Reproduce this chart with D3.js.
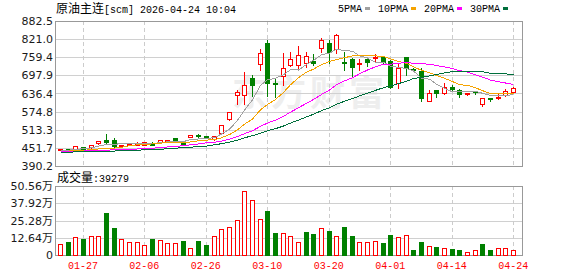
<!DOCTYPE html>
<html>
<head>
<meta charset="utf-8">
<script src="https://cdn.jsdelivr.net/npm/d3@7"></script>
<style>
    body { margin: 0; background: #fff; }
</style>
</head>
<body>
<div id="kline"></div>
<script>
// trading days shown on the chart
var dates = ["01-22","01-23","01-26","01-27","01-28","01-29","01-30","02-02","02-03","02-04",
    "02-05","02-06","02-09","02-10","02-11","02-12","02-13","02-24","02-25","02-26",
    "02-27","03-02","03-03","03-04","03-05","03-06","03-09","03-10","03-11","03-12",
    "03-13","03-16","03-17","03-18","03-19","03-20","03-23","03-24","03-25","03-26",
    "03-27","03-30","03-31","04-01","04-02","04-03","04-07","04-08","04-09","04-10",
    "04-13","04-14","04-15","04-16","04-17","04-20","04-21","04-22","04-23","04-24"];

var open  = [445,447,449,455,454,467,479,478,458,462, 463,463,466,471,476,485,476,490,496,493,
             482,501,549,630,630,688,736,807,673,696, 733,733,739,747,790,809,786,744,752,735,
             752,756,759,747,673,759,719,714,611,648, 639,658,648,636,641,601,621,622,630,640];
var high  = [448,448,458,456,465,479,502,488,463,469, 476,474,476,480,483,490,479,496,501,495,
             494,530,577,652,714,702,792,820,690,777, 779,802,782,773,827,820,843,782,759,756,
             761,773,767,752,744,764,725,727,651,651, 676,669,654,642,643,626,623,639,654,662];
var low   = [444,445,448,447,452,465,469,456,456,460, 462,461,461,469,474,478,463,488,489,486,
             478,499,547,601,600,628,716,628,625,665, 729,722,727,733,778,740,775,716,691,716,
             731,744,741,654,654,699,712,612,610,625, 635,645,626,632,634,594,611,617,628,637];
var close = [447,446,457,448,462,476,473,459,461,465, 469,470,463,478,479,480,466,495,491,488,
             491,528,575,641,664,665,773,671,668,722, 752,767,764,739,818,778,835,741,727,739,
             744,759,744,657,722,724,716,622,639,638, 657,652,634,639,640,620,618,625,645,654];

// volume, in 万
var volume = [8.1,9.8,13.0,11.8,14.0,14.0,31.1,19.9,11.6,9.6, 9.6,7.4,11.8,11.0,8.6,8.6,10.3,4.9,10.3,7.4,
              14.0,18.9,20.6,25.5,46.9,40.2,26.3,32.4,16.2,16.2, 14.0,9.6,16.9,15.5,19.6,17.7,14.0,20.6,14.0,9.6,
              9.6,10.3,8.8,14.7,13.0,14.7,3.7,9.6,6.6,5.9, 4.9,4.4,3.7,2.2,3.7,8.1,3.7,4.9,4.9,3.9279];

// moving averages
var ma5  = [444,444,446,449,452,458,463,464,466,467, 465,465,466,470,472,474,473,480,482,484,
            486,499,515,545,580,615,664,683,688,700, 717,716,735,749,768,773,787,782,780,764,
            757,742,743,729,725,721,713,688,685,668, 654,642,644,644,644,637,630,628,630,632];
var ma10 = [441,441,442,443,446,448,449,451,454,459, 462,464,465,468,469,469,469,472,476,478,
            480,486,497,513,532,550,581,599,616,640, 666,690,709,719,734,745,751,758,764,766,
            765,764,762,754,745,739,727,715,707,697, 688,677,666,664,656,646,636,636,637,638];
var ma20 = [440,440,441,441,442,443,444,445,446,447, 448,449,451,452,455,457,459,462,465,469,
            471,475,481,490,500,510,525,536,546,559, 573,588,603,616,633,648,666,679,690,703,
            716,727,736,736,739,742,739,737,736,731, 727,721,714,709,700,692,682,676,672,667];
var ma30 = [437,437,438,438,439,439,440,441,442,443, 444,445,446,447,449,451,452,454,456,458,
            462,466,471,478,486,493,502,510,517,526, 536,546,557,566,578,588,600,610,619,628,
            637,647,656,662,670,678,687,691,696,701, 706,711,712,712,711,710,705,703,703,700];

var priceTicks = [390.2, 451.7, 513.3, 574.8, 636.4, 697.9, 759.4, 821.0, 882.5];
var volTicks = [0, 12.64, 25.28, 37.92, 50.56];
var dateTicks = ["01-27","02-06","02-26","03-10","03-20","04-01","04-14","04-24"];

var maNames = ["5PMA", "10PMA", "20PMA", "30PMA"];
var maColors = ["#a0a0a0", "#f5a300", "#ff00ff", "#006f3c"];
var maSeries = [ma5, ma10, ma20, ma30];

var up = "#ff0000", down = "#008000";
var mono = "'Liberation Mono', 'DejaVu Sans Mono', monospace";
var cjk = "'Noto Sans CJK SC', sans-serif";

var width = 578, height = 276;
var left = 56, right = 522;
var pTop = 21, pBottom = 166;
var vTop = 186, vBottom = 255;

var svg = d3.select("#kline")
    .append("svg")
    .attr("width", width)
    .attr("height", height);

var x = d3.scaleBand()
    .domain(dates)
    .range([left, 517]);
var cx = function(d) { return Math.round(x(d) + x.bandwidth() / 2) + 0.5; };
var px = function(v) { return Math.round(v) + 0.5; };

var y = d3.scaleLinear()
    .domain([390.2, 882.5])
    .range([pBottom, pTop]);

var yv = d3.scaleLinear()
    .domain([0, 50.56])
    .range([vBottom, vTop]);

// watermark
svg.append("text")
    .attr("x", 232)
    .attr("y", 106)
    .style("font-family", cjk)
    .style("font-size", "35px")
    .style("font-weight", "bold")
    .style("letter-spacing", "4px")
    .attr("fill", "#eeeeee")
    .text("东方财富");

// horizontal grid
svg.append("g").selectAll("line")
    .data(priceTicks)
    .enter().append("line")
    .attr("x1", left).attr("x2", right)
    .attr("y1", function(d) { return px(y(d)); })
    .attr("y2", function(d) { return px(y(d)); })
    .attr("stroke", "#d0d0d0");

svg.append("g").selectAll("line")
    .data(volTicks)
    .enter().append("line")
    .attr("x1", left).attr("x2", right)
    .attr("y1", function(d) { return px(yv(d)); })
    .attr("y2", function(d) { return px(yv(d)); })
    .attr("stroke", "#d0d0d0");

// dashed vertical grid on both panels
[[pTop, pBottom], [vTop, vBottom]].forEach(function(p) {
    svg.append("g").selectAll("line")
        .data(dateTicks)
        .enter().append("line")
        .attr("x1", cx).attr("x2", cx)
        .attr("y1", p[0]).attr("y2", p[1])
        .attr("stroke", "#cccccc")
        .attr("stroke-dasharray", "4,3");
});

// panel borders
svg.append("rect")
    .attr("x", left - 0.5).attr("y", pTop + 0.5)
    .attr("width", right - left + 1).attr("height", pBottom - pTop)
    .attr("fill", "none").attr("stroke", "#999");
svg.append("rect")
    .attr("x", left - 0.5).attr("y", vTop + 0.5)
    .attr("width", right - left + 1).attr("height", vBottom - vTop)
    .attr("fill", "none").attr("stroke", "#999");

// candles
var idx = d3.range(dates.length);
var candles = svg.append("g").attr("shape-rendering", "crispEdges");

candles.selectAll("line")
    .data(idx)
    .enter().append("line")
    .attr("x1", function(i) { return cx(dates[i]); })
    .attr("x2", function(i) { return cx(dates[i]); })
    .attr("y1", function(i) { return px(y(high[i])); })
    .attr("y2", function(i) { return px(y(low[i])); })
    .attr("stroke", function(i) { return close[i] >= open[i] ? up : down; });

candles.selectAll("rect")
    .data(idx)
    .enter().append("rect")
    .attr("x", function(i) { return cx(dates[i]) - 2; })
    .attr("width", 4)
    .attr("y", function(i) { return px(y(Math.max(open[i], close[i]))); })
    .attr("height", function(i) {
        return Math.max(0.01, px(y(Math.min(open[i], close[i]))) - px(y(Math.max(open[i], close[i]))));
    })
    .attr("fill", function(i) { return close[i] >= open[i] ? "#fff" : down; })
    .attr("stroke", function(i) { return close[i] >= open[i] ? up : down; });

// moving average lines
maSeries.forEach(function(s, k) {
    svg.append("path")
        .datum(s)
        .attr("fill", "none")
        .attr("stroke", maColors[k])
        .attr("stroke-width", 1)
        .attr("shape-rendering", "crispEdges")
        .attr("d", d3.line()
            .x(function(d, i) { return cx(dates[i]); })
            .y(function(d) { return y(d); }));
});

// volume bars, coloured by close against previous close
svg.append("g")
    .attr("shape-rendering", "crispEdges")
    .selectAll("rect")
    .data(idx)
    .enter().append("rect")
    .attr("x", function(i) { return cx(dates[i]) - 2; })
    .attr("width", 4)
    .attr("y", function(i) { return px(yv(volume[i])); })
    .attr("height", function(i) { return px(yv(0)) - px(yv(volume[i])); })
    .attr("fill", function(i) { return (i === 0 || close[i] >= close[i - 1]) ? "#fff" : down; })
    .attr("stroke", function(i) { return (i === 0 || close[i] >= close[i - 1]) ? up : down; });

// y axes
var yAxis = svg.append("g")
    .attr("transform", "translate(" + (left - 1) + ",0)")
    .call(d3.axisLeft(y).tickValues(priceTicks).tickSize(0).tickPadding(2).tickFormat(d3.format(".1f")));
var vAxis = svg.append("g")
    .attr("transform", "translate(" + (left - 1) + ",0)")
    .call(d3.axisLeft(yv).tickValues(volTicks).tickSize(0).tickPadding(2)
        .tickFormat(function(d) { return d === 0 ? "0" : d3.format(".2f")(d) + "万"; }));
[yAxis, vAxis].forEach(function(a) {
    a.select(".domain").remove();
    a.selectAll("text")
        .style("font-family", "'DejaVu Sans', sans-serif")
        .style("font-size", "11px")
        .attr("fill", "#1a1a1a");
});
vAxis.selectAll("text")
    .style("font-family", "'DejaVu Sans', 'Noto Sans CJK SC', sans-serif");

// x axis under the volume panel
var xAxis = svg.append("g")
    .attr("transform", "translate(0," + vBottom + ")")
    .call(d3.axisBottom(x).tickValues(dateTicks).tickSize(0).tickPadding(7));
xAxis.select(".domain").remove();
xAxis.selectAll("text")
    .style("font-family", mono)
    .style("font-size", "10px")
    .attr("fill", "#ff0000");

// title
var title = svg.append("text")
    .attr("x", left)
    .attr("y", 12.5)
    .attr("fill", "#000");
title.append("tspan").style("font-family", cjk).style("font-size", "12px").text("原油主连");
title.append("tspan").style("font-family", mono).style("font-size", "10px").text("[scm] 2026-04-24 10:04");

// MA legend
var lx = 338;
maNames.forEach(function(n, k) {
    svg.append("text")
        .attr("x", lx).attr("y", 11.5)
        .style("font-family", mono)
        .style("font-size", "10px")
        .attr("fill", "#000")
        .text(n);
    lx += n.length * 6 + 3;
    svg.append("rect")
        .attr("x", lx).attr("y", 7)
        .attr("width", 5).attr("height", 3)
        .attr("fill", maColors[k]);
    lx += 5 + 8;
});

// volume caption
var vcap = svg.append("text")
    .attr("x", left + 1)
    .attr("y", 181.5)
    .attr("fill", "#000");
vcap.append("tspan").style("font-family", cjk).style("font-size", "12px").text("成交量");
vcap.append("tspan").style("font-family", mono).style("font-size", "10px").text(":" + Math.round(volume[volume.length - 1] * 10000));
</script>
</body>
</html>
